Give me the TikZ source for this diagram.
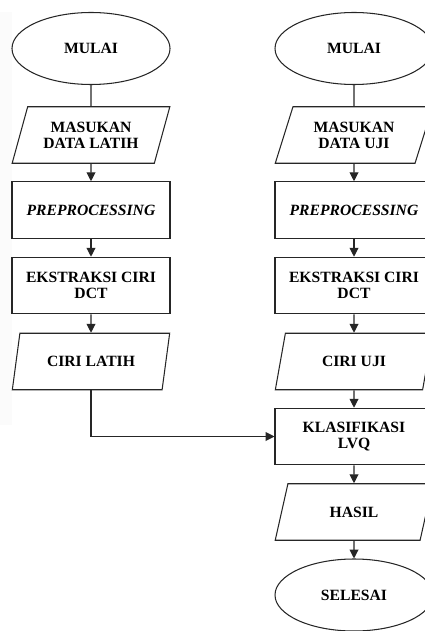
\documentclass[tikz,border=0pt]{standalone}
\usepackage{fontspec}
\setmainfont{Liberation Serif}
\usetikzlibrary{shapes.geometric,arrows.meta}
\begin{document}
\begin{tikzpicture}[
  every node/.style={font=\fontsize{8.9pt}{9pt}\selectfont\bfseries, align=center, draw=black!85, line width=0.6pt},
  terminal/.style={ellipse, minimum width=3.16cm, minimum height=1.44cm, inner sep=0pt},
  process/.style={rectangle, minimum width=3.16cm, minimum height=1.13cm, inner sep=0pt},
  io/.style={trapezium, trapezium left angle=66, trapezium right angle=114, trapezium stretches=true, minimum width=3.16cm, minimum height=1.13cm, inner sep=0pt},
  arr/.style={-{Triangle[length=5pt,width=5pt]}, draw=black!85, line width=0.6pt}
]
\useasboundingbox (0,0) rectangle (8.48,-12.62);
\fill [gray!3] (0,-0.24) rectangle (0.24,-8.5);
% kolom data latih
\node[terminal] (mulaiL) at (1.82,-0.97) {MULAI};
\node[io] (masukL) at (1.82,-2.70) {MASUKAN\\DATA LATIH};
\node[process] (preL) at (1.82,-4.20) {\textit{PREPROCESSING}};
\node[process] (dctL) at (1.82,-5.71) {EKSTRAKSI CIRI\\DCT};
\node[io] (ciriL) at (1.82,-7.23) {CIRI LATIH};
% kolom data uji
\node[terminal] (mulaiU) at (7.08,-0.97) {MULAI};
\node[io] (masukU) at (7.08,-2.70) {MASUKAN\\DATA UJI};
\node[process] (preU) at (7.08,-4.20) {\textit{PREPROCESSING}};
\node[process] (dctU) at (7.08,-5.71) {EKSTRAKSI CIRI\\DCT};
\node[io] (ciriU) at (7.08,-7.23) {CIRI UJI};
\node[process] (lvq) at (7.08,-8.73) {KLASIFIKASI\\LVQ};
\node[io] (hasil) at (7.08,-10.24) {HASIL};
\node[terminal] (selesai) at (7.08,-11.90) {SELESAI};
\draw[draw=black!85, line width=0.6pt] (mulaiL) -- (masukL);
\draw[arr] (masukL) -- (preL);
\draw[arr] (preL) -- (dctL);
\draw[arr] (dctL) -- (ciriL);
\draw[arr] (ciriL.south) |- (lvq.west);
\draw[draw=black!85, line width=0.6pt] (mulaiU) -- (masukU);
\draw[arr] (masukU) -- (preU);
\draw[arr] (preU) -- (dctU);
\draw[arr] (dctU) -- (ciriU);
\draw[arr] (ciriU) -- (lvq);
\draw[arr] (lvq) -- (hasil);
\draw[arr] (hasil) -- (selesai);
\end{tikzpicture}
\end{document}
